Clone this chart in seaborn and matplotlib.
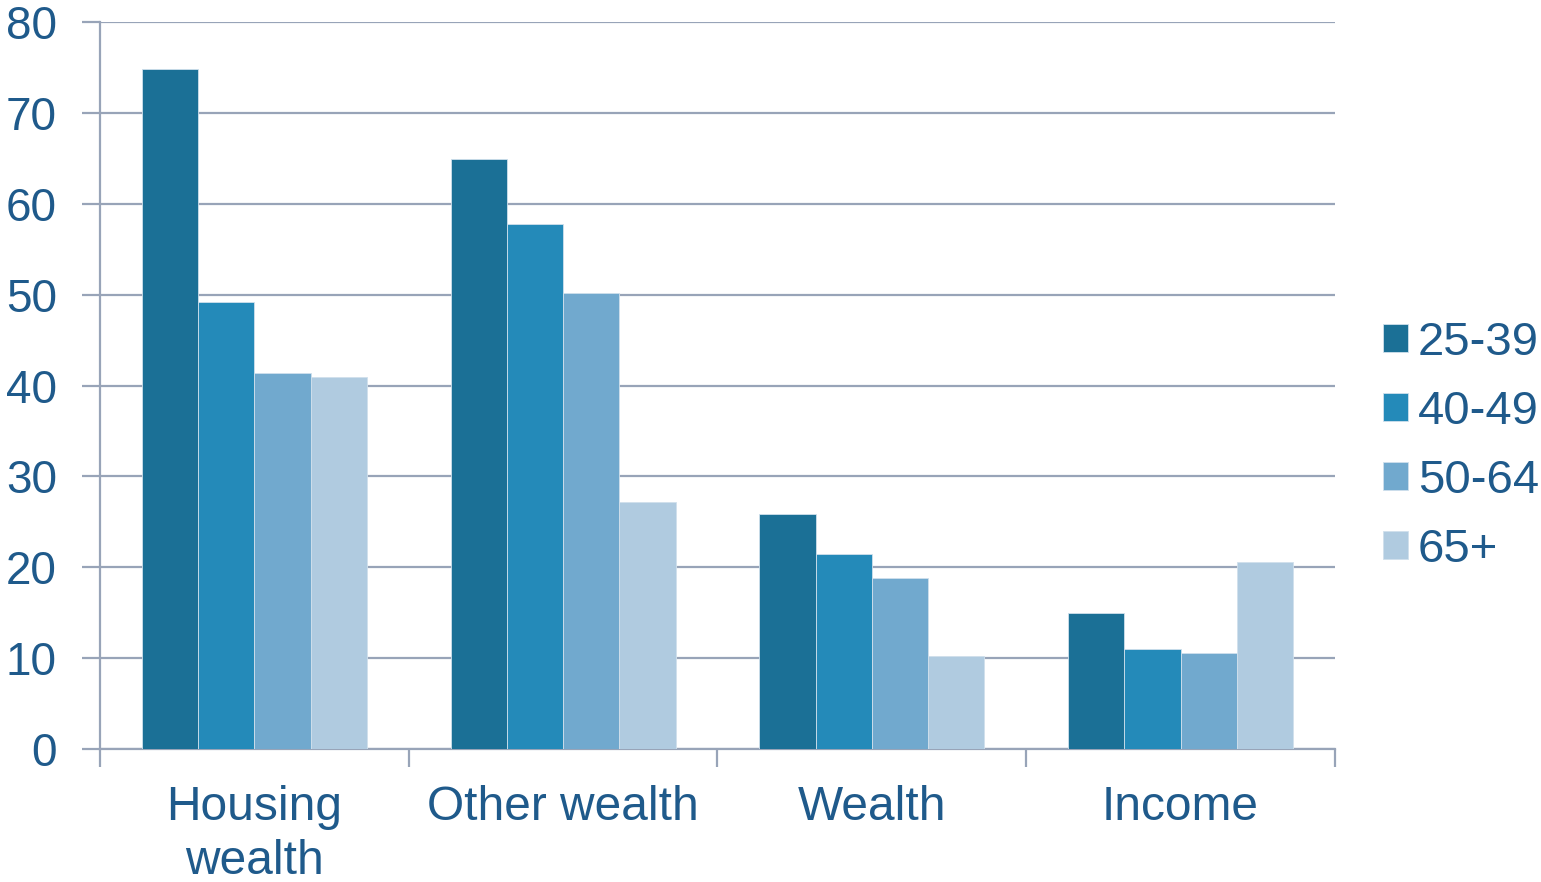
import pandas as pd
import matplotlib.pyplot as plt
import seaborn as sns
from matplotlib.ticker import FixedLocator

# Datos
categorias = ["Housing\nwealth", "Other wealth", "Wealth", "Income"]
edades = ["25-39", "40-49", "50-64", "65+"]
v_25_39 = [74.8, 64.9, 25.9, 15.0]
v_40_49 = [49.2, 57.8, 21.5, 11.0]
v_50_64 = [41.4, 50.2, 18.8, 10.6]
v_65 = [40.9, 27.2, 10.2, 20.6]
colores = ["#1b7096", "#248ab9", "#71a9ce", "#b0cbe0"]

filas = []
for edad, valores in zip(edades, [v_25_39, v_40_49, v_50_64, v_65]):
    for cat, v in zip(categorias, valores):
        filas.append({"cat": cat, "edad": edad, "valor": v})
data = pd.DataFrame(filas)

texto = "#1f5a8b"
gris = "#98a4b8"

sns.set_style("white")
plt.rcParams["font.family"] = ["Liberation Sans", "DejaVu Sans"]

fig = plt.figure(figsize=(15.41, 8.82), dpi=100)
ax = fig.add_axes([0.0649, 0.1508, 0.8014, 0.8242])
sns.barplot(data=data, x="cat", y="valor", hue="edad", palette=colores,
            width=0.728, ax=ax, edgecolor="#d0e0ec", linewidth=0.6,
            saturation=1, zorder=3)

ax.set_xlim(-0.5, 3.5)
ax.set_ylim(0, 80)
ax.set_yticks(range(0, 81, 10))
ax.yaxis.grid(True, color=gris, linewidth=1.6, zorder=0)
ax.set_axisbelow(True)
ax.set_xlabel("")
ax.set_ylabel("")

for lado in ["top", "right"]:
    ax.spines[lado].set_visible(False)
for lado in ["left", "bottom"]:
    ax.spines[lado].set_color(gris)
    ax.spines[lado].set_linewidth(1.6)

ax.tick_params(axis="y", length=13, width=1.6, color=gris, labelsize=33,
               labelcolor=texto, pad=18, direction="out", left=True)
ax.tick_params(axis="x", which="major", length=0, labelsize=34.5,
               labelcolor=texto, pad=26)
ax.xaxis.set_minor_locator(FixedLocator([-0.5, 0.5, 1.5, 2.5, 3.5]))
ax.tick_params(axis="x", which="minor", length=13, width=1.6, color=gris,
               direction="out", bottom=True)
for lab in ax.get_xticklabels():
    lab.set_linespacing(1.25)
    lab.set_verticalalignment("top")

leg = ax.legend(loc="center left", bbox_to_anchor=(1.039, 0.416), frameon=False,
                fontsize=34, labelcolor=texto, handlelength=0.53,
                handleheight=0.53, handletextpad=0.2, labelspacing=0.53,
                borderpad=0, borderaxespad=0)

plt.savefig("out.png", dpi=100)
